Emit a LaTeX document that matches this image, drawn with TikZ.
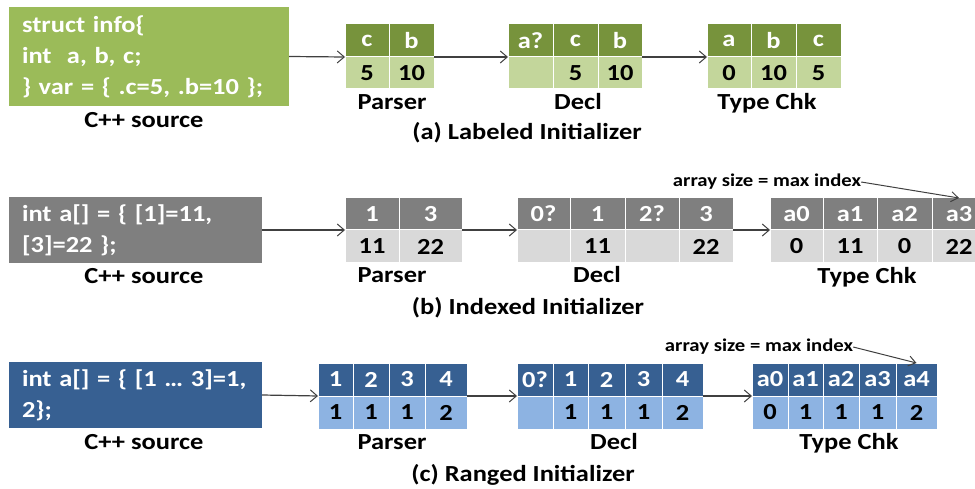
\documentclass[tikz,border=0pt]{standalone}
\usepackage{fontspec}
\setmainfont{Carlito}[FakeStretch=1.15]
\usetikzlibrary{arrows.meta}
\definecolor{gSrc}{HTML}{9BBB59}
\definecolor{gHd}{HTML}{77933C}
\definecolor{gDt}{HTML}{C3D69B}
\definecolor{ySrc}{HTML}{7F7F7F}
\definecolor{yHd}{HTML}{7F7F7F}
\definecolor{yDt}{HTML}{D9D9D9}
\definecolor{bSrc}{HTML}{376092}
\definecolor{bHd}{HTML}{376092}
\definecolor{bDt}{HTML}{8DB3E2}
\definecolor{arrgray}{HTML}{404040}
\newcommand\mktable[7]{%
  \foreach \cx/\cw/\ch/\cd [count=\ci] in {#7}{%
    \node[cellbox, fill=#5, text=white, minimum width=\cw, minimum height=#3-#2] (#1h\ci) at (\cx,#2) {\ch};
    \node[cellbox, fill=#6, text=black, minimum width=\cw, minimum height=#4-#3] (#1d\ci) at (\cx,#3) {\cd};
  }}
\begin{document}
\begin{tikzpicture}[x=1pt,y=-1pt,
  cellbox/.style={rectangle, draw=white, line width=1pt, anchor=north west, inner sep=0pt, outer sep=0pt,
    font=\bfseries\fontsize{23}{26}\selectfont},
  srcbox/.style={rectangle, anchor=north west, inner ysep=0pt, inner xsep=13pt, outer sep=0pt, align=left,
    text=white, font=\bfseries\fontsize{23}{31}\selectfont},
  lbl/.style={inner sep=0pt, font=\bfseries\fontsize{23}{26}\selectfont},
  note/.style={inner sep=0pt, font=\bfseries\fontsize{18}{20}\selectfont},
  arr/.style={draw=arrgray, line width=1.2pt, -{Straight Barb[length=7pt,width=12pt,line width=1pt]}},
  narr/.style={draw=arrgray, line width=1pt, -{Straight Barb[length=7pt,width=10pt,line width=1pt]}}]
\useasboundingbox (0,0) rectangle (975,489);
\clip (0,0) rectangle (975,489);

% ---------- (a) ----------
\node[srcbox, fill=gSrc, minimum width=280, minimum height=99, text width=254] (srcA) at (9,7)
  {struct info\{\\int~ a, b, c;\\\} var = \{ .c=5, .b=10 \};};
\node[lbl] (csA) at (144,120) {C++ source};
\mktable{pA}{24}{57}{89}{gHd}{gDt}{345/44/c/5, 389/45/b/10}
\mktable{dA}{24}{57}{89}{gHd}{gDt}{508/45/a?/, 553/45/c/5, 598/44/b/10}
\mktable{tA}{24}{57}{89}{gHd}{gDt}{707/44/a/0, 751/45/b/10, 796/45/c/5}
\node[lbl] (lpA) at (392,102) {Parser};
\node[lbl] (ldA) at (578,102) {Decl};
\node[lbl] (ltA) at (767,103) {Type Chk};
\node[lbl] (ttA) at (527,133) {(a) Labeled Initializer};
\draw[arr] (srcA.east) -- (pAh1.south west);
\draw[arr] (pAh2.south east) -- (dAh1.south west);
\draw[arr] (dAh3.south east) -- (tAh1.south west);

% ---------- (b) ----------
\node[srcbox, fill=ySrc, minimum width=253, minimum height=66, text width=227] (srcB) at (9,197)
  {int a[] = \{ [1]=11,\\ {[3]=22 \};}};
\node[lbl] (csB) at (144,276) {C++ source};
\mktable{pB}{198}{230}{263}{yHd}{yDt}{345/54/1/11, 399/63/3/22}
\mktable{dB}{198}{230}{263}{yHd}{yDt}{517/53/0?/, 570/55/1/11, 625/54/2?/, 679/54/3/22}
\mktable{tB}{198}{230}{263}{yHd}{yDt}{770/53/a0/0, 823/54/a1/11, 877/55/a2/0, 932/54/a3/22}
\node[lbl] (lpB) at (392,275) {Parser};
\node[lbl] (ldB) at (597,275) {Decl};
\node[lbl] (ltB) at (867,277) {Type Chk};
\node[lbl] (ttB) at (528,308) {(b) Indexed Initializer};
\node[note] (nB) at (767,182) {array size = max index};
\draw[arr] (srcB.east) -- (pBh1.south west);
\draw[arr] (pBh2.south east) -- (dBh1.south west);
\draw[arr] (dBh4.south east) -- (tBh1.south west);
\draw[narr] (nB.east) -- (tBh4.north);

% ---------- (c) ----------
\node[srcbox, fill=bSrc, minimum width=253, minimum height=66, text width=227] (srcC) at (9,362)
  {int a[] = \{ [1 … 3]=1,\\2\};};
\node[lbl] (csC) at (144,442) {C++ source};
\mktable{pC}{363}{396}{429}{bHd}{bDt}{318/35/1/1, 353/36/2/1, 389/36/3/1, 425/42/4/2}
\mktable{dC}{363}{396}{429}{bHd}{bDt}{517/36/0?/, 553/35/1/1, 588/37/2/1, 625/37/3/1, 662/41/4/2}
\mktable{tC}{363}{396}{429}{bHd}{bDt}{752/36/a0/0, 788/35/a1/1, 823/36/a2/1, 859/37/a3/1, 896/41/a4/2}
\node[lbl] (lpC) at (392,442) {Parser};
\node[lbl] (ldC) at (614,442) {Decl};
\node[lbl] (ltC) at (849,443) {Type Chk};
\node[lbl] (ttC) at (523,475) {(c) Ranged Initializer};
\node[note] (nC) at (759,347) {array size = max index};
\draw[arr] (srcC.east) -- (pCh1.south west);
\draw[arr] (pCh4.south east) -- (dCh1.south west);
\draw[arr] (dCh5.south east) -- (tCh1.south west);
\draw[narr] (nC.east) -- (tCh5.north);
\end{tikzpicture}
\end{document}
